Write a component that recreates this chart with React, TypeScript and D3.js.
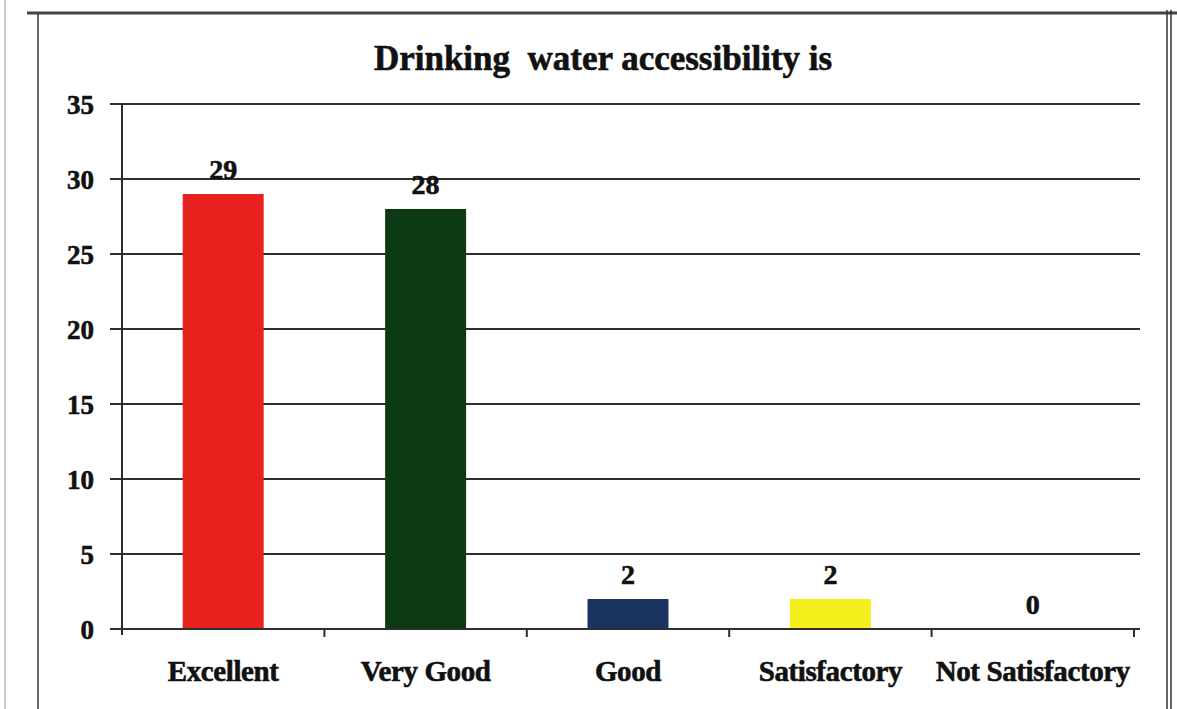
import React from "react";
import * as d3 from "d3";

const categories = ["Excellent", "Very Good", "Good", "Satisfactory", "Not Satisfactory"];
const values = [29, 28, 2, 2, 0];
const barColors = ["#e8221f", "#0c3a12", "#1b3360", "#f4ee1c", "#888888"];
const yTicks = [0, 5, 10, 15, 20, 25, 30, 35];
const title = "Drinking  water accessibility is";

export default function App() {
  const W = 1177, H = 709;
  const x0 = 122, x1 = 1134, yTop = 104, yBot = 629;
  const x = d3.scaleBand().domain(categories).range([x0, x1]).paddingInner(0.6).paddingOuter(0.3);
  const y = d3.scaleLinear().domain([0, 35]).range([yBot, yTop]);
  const band = d3.scaleBand().domain(categories).range([x0, x1]);
  const font = "'Liberation Serif', 'Times New Roman', serif";
  const lineCol = "#2e2e2e";
  const ink = "#111";
  const textProps = { fontFamily: font, fontWeight: "bold", fill: ink, stroke: ink, strokeWidth: 0.6 } as const;
  return (
    <svg width={W} height={H} style={{ position: "fixed", left: 0, top: 0, background: "#fff" }}>
      {/* frame */}
      <line x1={5} x2={5} y1={0} y2={H} stroke="#bbb" strokeWidth={1.5} />
      <line x1={27} x2={W} y1={13} y2={13} stroke="#444" strokeWidth={3} />
      <line x1={38} x2={38} y1={13} y2={H} stroke="#333" strokeWidth={1.5} />
      <line x1={1167} x2={1167} y1={10} y2={H} stroke="#333" strokeWidth={1.5} />
      <line x1={1171} x2={1171} y1={10} y2={H} stroke="#333" strokeWidth={1.5} />
      <text x={603} y={70} textAnchor="middle" fontSize={35} style={{ whiteSpace: "pre" }} {...textProps}>
        {title}
      </text>
      {/* grid lines */}
      {yTicks.map((t) => (
        <g key={t}>
          <line x1={110} x2={1140} y1={y(t)} y2={y(t)} stroke={lineCol} strokeWidth={2} />
          <text x={94} y={y(t) + 10} textAnchor="end" fontSize={27} {...textProps}>
            {t}
          </text>
        </g>
      ))}
      <line x1={x0} x2={x0} y1={yTop} y2={yBot + 6} stroke={lineCol} strokeWidth={2} />
      {categories.map((c, i) => (
        <line key={"t" + i} x1={(band(c) as number) + band.bandwidth()} x2={(band(c) as number) + band.bandwidth()} y1={yBot} y2={yBot + 8} stroke={lineCol} strokeWidth={2} />
      ))}
      {categories.map((c, i) => (
        <g key={c}>
          {values[i] > 0 && (
            <rect x={x(c)} y={y(values[i])} width={x.bandwidth()} height={yBot - y(values[i]) - 1} fill={barColors[i]} />
          )}
          <text x={(x(c) as number) + x.bandwidth() / 2} y={y(values[i]) - 15} textAnchor="middle" fontSize={28} {...textProps}>
            {values[i]}
          </text>
          <text x={(band(c) as number) + band.bandwidth() / 2} y={681} textAnchor="middle" fontSize={29} letterSpacing={-0.4} {...textProps}>
            {c}
          </text>
        </g>
      ))}
    </svg>
  );
}
